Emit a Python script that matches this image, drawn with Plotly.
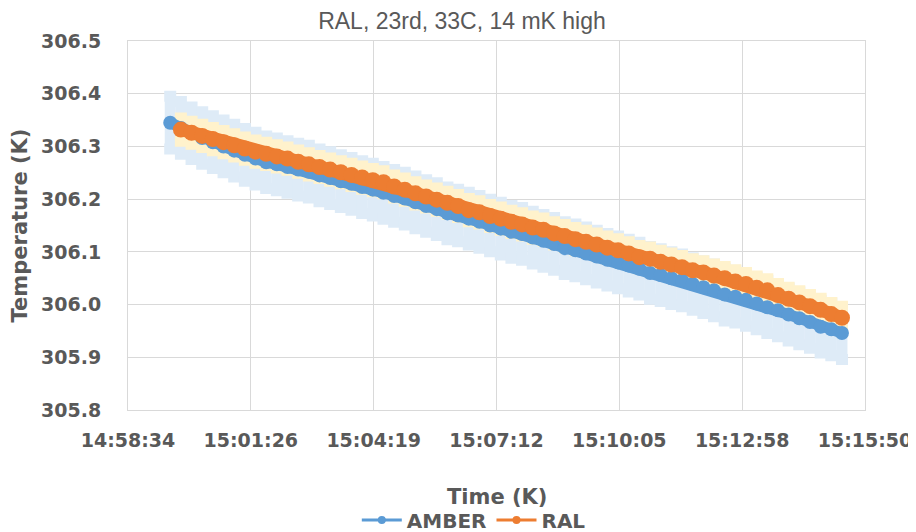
import pandas as pd
import plotly.graph_objects as go

# ---- data ----
start_time = "2024-01-01 14:59:33"
step = "15s"
amber_temp = [306.345, 306.335, 306.325, 306.316, 306.308, 306.300, 306.292, 306.284,
              306.277, 306.270, 306.266, 306.261, 306.256, 306.252, 306.245, 306.240,
              306.234, 306.229, 306.223, 306.218, 306.212, 306.206, 306.201, 306.194,
              306.187, 306.181, 306.173, 306.169, 306.163, 306.157, 306.150, 306.144,
              306.138, 306.134, 306.127, 306.121, 306.115, 306.107, 306.103, 306.097,
              306.091, 306.085, 306.080, 306.074, 306.068, 306.060, 306.056, 306.050,
              306.046, 306.039, 306.033, 306.027, 306.019, 306.015, 306.009, 306.002,
              305.995, 305.989, 305.981, 305.974, 305.967, 305.958, 305.953, 305.946]
ral_temp = [None, 306.332, 306.326, 306.320, 306.314, 306.308, 306.302, 306.296,
            306.290, 306.286, 306.281, 306.277, 306.271, 306.266, 306.261, 306.256,
            306.251, 306.246, 306.241, 306.236, 306.232, 306.224, 306.218, 306.211,
            306.205, 306.199, 306.193, 306.187, 306.179, 306.175, 306.168, 306.163,
            306.157, 306.152, 306.146, 306.142, 306.135, 306.130, 306.124, 306.119,
            306.114, 306.108, 306.103, 306.097, 306.090, 306.087, 306.081, 306.076,
            306.071, 306.065, 306.061, 306.055, 306.050, 306.044, 306.039, 306.032,
            306.027, 306.018, 306.011, 306.004, 305.997, 305.990, 305.982, 305.975]
amber_err = 0.05
ral_err = 0.022

tick_vals = ["2024-01-01 14:58:33.6", "2024-01-01 15:01:26.4", "2024-01-01 15:04:19.2",
             "2024-01-01 15:07:12", "2024-01-01 15:10:04.8", "2024-01-01 15:12:57.6",
             "2024-01-01 15:15:50.4"]
tick_text = ["14:58:34", "15:01:26", "15:04:19", "15:07:12", "15:10:05", "15:12:58", "15:15:50"]

times = pd.date_range(start_time, periods=len(amber_temp), freq=step)

BLUE = "#5B9BD5"
ORANGE = "#ED7D31"
BLUE_ERR = "#DEEBF7"
YEL_ERR = "#FFF2CC"
GRID = "#D9D9D9"
TXT = "#595959"
FONT = "DejaVu Sans"

# page body has an 8px default margin, so the figure is a little smaller
W, H = 908, 524
PLOT_H = H - 33 - 122

fig = go.Figure()
# error bands (drawn first, below markers)
fig.add_trace(go.Scatter(x=times, y=amber_temp, mode="markers",
                         marker=dict(color="rgba(0,0,0,0)", size=1),
                         error_y=dict(type="constant", value=amber_err, color=BLUE_ERR,
                                      thickness=11, width=6),
                         showlegend=False, hoverinfo="skip"))
fig.add_trace(go.Scatter(x=times, y=ral_temp, mode="markers",
                         marker=dict(color="rgba(0,0,0,0)", size=1),
                         error_y=dict(type="constant", value=ral_err, color=YEL_ERR,
                                      thickness=11, width=6),
                         showlegend=False, hoverinfo="skip"))
# series
fig.add_trace(go.Scatter(x=times, y=amber_temp, mode="lines+markers", name="AMBER",
                         line=dict(color=BLUE, width=11),
                         marker=dict(color=BLUE, size=14), showlegend=False))
fig.add_trace(go.Scatter(x=times, y=ral_temp, mode="lines+markers", name="RAL",
                         line=dict(color=ORANGE, width=13),
                         marker=dict(color=ORANGE, size=16), showlegend=False))
# legend entries
fig.add_trace(go.Scatter(x=[None], y=[None], mode="lines+markers", name="AMBER",
                         line=dict(color=BLUE, width=3), marker=dict(color=BLUE, size=8)))
fig.add_trace(go.Scatter(x=[None], y=[None], mode="lines+markers", name="RAL",
                         line=dict(color=ORANGE, width=3), marker=dict(color=ORANGE, size=8)))

fig.update_layout(
    width=W, height=H,
    paper_bgcolor="white", plot_bgcolor="white",
    margin=dict(l=120, r=51, t=33, b=122, autoexpand=False),
    title=dict(text="RAL, 23rd, 33C, 14 mK high", x=0.5, xref="container", xanchor="center",
               y=1 - 13 / H, yref="container", yanchor="middle",
               font=dict(family="Liberation Sans", size=23, color=TXT)),
    legend=dict(orientation="h", xref="container", yref="paper", x=0.513, xanchor="center",
                y=-110 / PLOT_H, yanchor="middle",
                font=dict(family=FONT, size=20, color=TXT, weight="bold"),
                itemwidth=40, tracegroupgap=0),
    showlegend=True,
    annotations=[dict(text="Time (K)", xref="paper", yref="paper", x=0.5, y=0,
                      xanchor="center", yanchor="middle", yshift=-87, showarrow=False,
                      font=dict(family=FONT, size=21, color=TXT, weight="bold"))],
)
fig.update_xaxes(type="date", range=[tick_vals[0], tick_vals[-1]],
                 tickmode="array", tickvals=tick_vals, ticktext=tick_text,
                 showgrid=True, gridcolor=GRID, gridwidth=1,
                 showline=True, linecolor=GRID, mirror=True, zeroline=False,
                 ticks="", ticklabelstandoff=13,
                 tickfont=dict(family=FONT, size=19, color=TXT, weight="bold"))
fig.update_yaxes(range=[305.8, 306.5], dtick=0.1, tick0=305.8, tickformat=".1f",
                 showgrid=True, gridcolor=GRID, gridwidth=1,
                 showline=True, linecolor=GRID, mirror=True, zeroline=False,
                 ticks="", ticklabelstandoff=22,
                 tickfont=dict(family=FONT, size=19, color=TXT, weight="bold"),
                 title=dict(text="Temperature (K)", standoff=12,
                            font=dict(family=FONT, size=21, color=TXT, weight="bold")))

fig.write_html("out.html")
